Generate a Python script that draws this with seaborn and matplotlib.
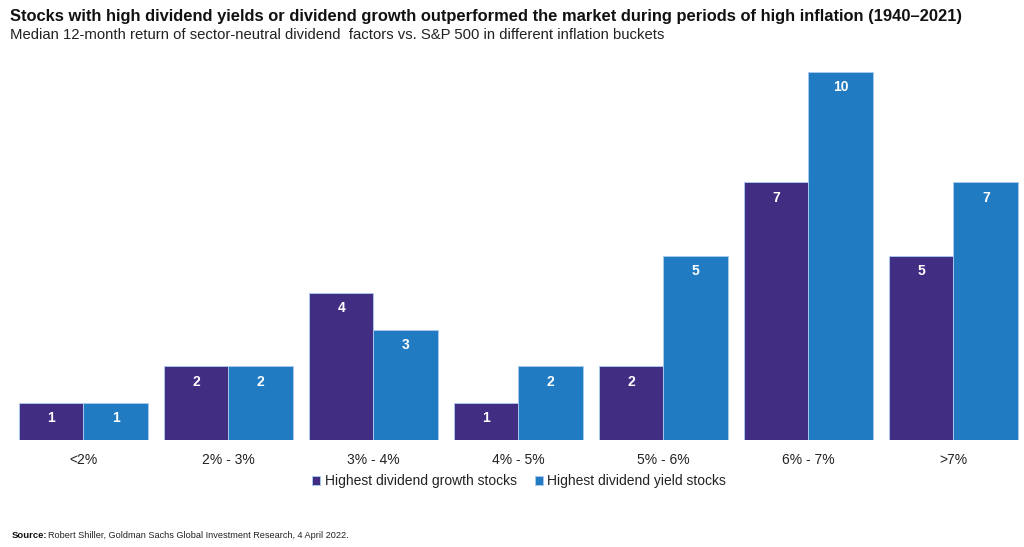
import pandas as pd
import seaborn as sns
import matplotlib.pyplot as plt

# values
buckets = ['<2%', '2% - 3%', '3% - 4%', '4% - 5%', '5% - 6%', '6% - 7%', '>7%']
growth = [1, 2, 4, 1, 2, 7, 5]
yield_ = [1, 2, 3, 2, 5, 10, 7]
series = ['Highest dividend growth stocks', 'Highest dividend yield stocks']
colors = ['#412D82', '#217BC2']

df = pd.DataFrame({
    'bucket': buckets * 2,
    'value': growth + yield_,
    'series': [series[0]] * len(buckets) + [series[1]] * len(buckets),
})

sns.set_theme(style='white')
plt.rcParams['font.family'] = ['Liberation Sans', 'DejaVu Sans']

fig = plt.figure(figsize=(10.24, 5.47), dpi=100)
ax = fig.add_axes([11 / 1024, 1 - 440 / 547, 1 - 11 / 1024, 380 / 547])

sns.barplot(data=df, x='bucket', y='value', hue='series', order=buckets,
            hue_order=series, palette=colors, width=0.89, gap=0,
            edgecolor='#a8c8ec', linewidth=0.7, saturation=1, ax=ax)

for cont in ax.containers:
    ax.bar_label(cont, fmt='%d', padding=-16, color='white',
                 fontsize=10, fontweight='bold')

ax.set_xlim(-0.5, (1024 - 83.5) / 145)
ax.set_ylim(0, 380 / 36.8)
ax.set_yticks([])
ax.set_xlabel('')
ax.set_ylabel('')
ax.tick_params(axis='x', length=0, pad=9, labelsize=10, labelcolor='#222222')
for s in ax.spines.values():
    s.set_visible(False)

ax.legend(loc='center', bbox_to_anchor=(519 / 1024, 1 - 481 / 547),
          bbox_transform=fig.transFigure, ncol=2, frameon=False,
          fontsize=10, handlelength=0.6, handleheight=0.6,
          handletextpad=0.3, columnspacing=1.3, labelcolor='#222222')

fig.text(10 / 1024, 1 - 17 / 547,
         'Stocks with high dividend yields or dividend growth outperformed the market during periods of high inflation (1940\u20132021)',
         fontsize=11.85, fontweight='bold', va='center', ha='left', color='#111111')
fig.text(10 / 1024, 1 - 35 / 547,
         'Median 12-month return of sector-neutral dividend  factors vs. S&P 500 in different inflation buckets',
         fontsize=10.7, va='center', ha='left', color='#222222')
fig.text(12 / 1024, 1 - 535 / 547, 'Source:', fontsize=6.8, fontweight='bold',
         va='center', ha='left', color='#111111')
fig.text(48 / 1024, 1 - 535 / 547,
         'Robert Shiller, Goldman Sachs Global Investment Research, 4 April 2022.',
         fontsize=6.6, va='center', ha='left', color='#222222')

fig.savefig('out.png', dpi=100)
